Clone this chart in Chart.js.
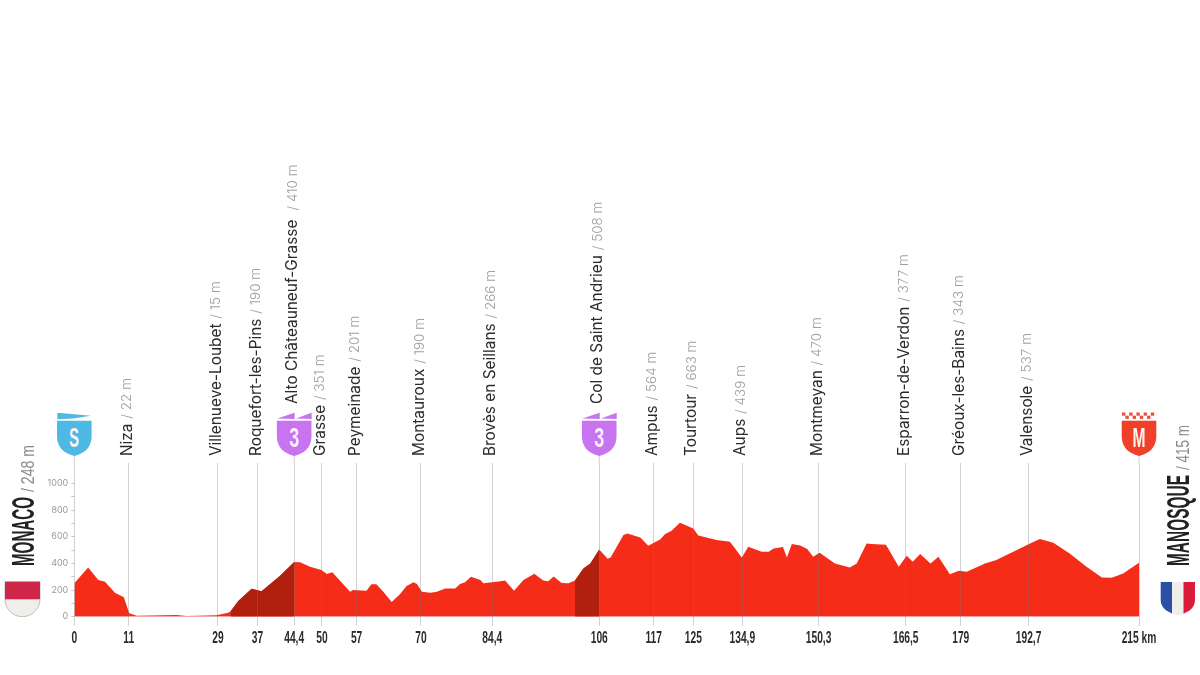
<!DOCTYPE html>
<html>
<head>
<meta charset="utf-8">
<title>Etapa Monaco - Manosque</title>
<script src="https://cdn.jsdelivr.net/npm/chart.js@4/dist/chart.umd.min.js"></script>
<style>
  html, body { margin: 0; background: #fff; }
  canvas { display: block; }
</style>
</head>
<body>
<canvas id="profile" width="1200" height="675"></canvas>
<script>
// profile
const km = [0, 2.8, 4.85, 6.2, 8.2, 10, 11.1, 12.6, 20.7, 22.7, 28.7, 31.1, 31.6, 33.1, 35.8, 37.8, 41.5, 44.4, 45.6, 47.6, 49.9, 51, 52.1, 55.7, 56.3, 59, 60, 61, 62.4, 64.1, 65.8,
  67.1, 68.5, 69.2, 70.2, 71.9, 73.2, 74.9, 76.9, 77.9, 78.9, 80.1, 82, 82.6, 84.3, 85.3, 87, 88.8, 90.7, 92.9, 94.7, 95.7, 96.8, 98.4, 99.8, 101.1, 102.8, 104.2, 106,
  107.7, 108.3, 110.9, 111.7, 114.3, 115.9, 118.3, 119.3, 120.6, 122.3, 125, 126, 129.7, 132.4, 134.8, 136.1, 138.8, 140.2, 141.2, 143.1, 143.9, 144.9, 146.6,
  148, 149.2, 150.5, 153.6, 156.6, 158, 160, 161, 163.9, 166.5, 168.1, 169.3, 170.8, 172.9, 174.5, 176.8, 178.6, 180.2, 183.9, 186.2, 189.6, 193, 195, 197.7, 201, 204.4, 207.5, 209.5, 211.8, 215];
const elevation = [250, 370, 275, 262, 180, 145, 25, 8, 12, 5, 10, 30, 42, 118, 210, 190, 305, 410, 408, 375, 350, 320, 333, 188, 200, 195, 243, 243, 188, 110, 170,
  230, 258, 245, 188, 180, 188, 212, 212, 245, 258, 300, 275, 250, 258, 262, 272, 195, 275, 322, 272, 265, 302, 252, 250, 272, 362, 400, 505,
  435, 445, 612, 625, 595, 532, 580, 620, 645, 705, 662, 610, 575, 562, 445, 525, 488, 488, 512, 522, 445, 545, 535,
  508, 450, 480, 400, 370, 400, 550, 545, 540, 375, 458, 412, 470, 400, 450, 318, 345, 338, 400, 425, 488, 550, 582, 555, 475, 375, 295, 292, 325, 405];

// the 166,5 line sits nearer km 168 on the original drawing
const kmMarks = [0, 11, 29, 37, 44.4, 50, 57, 70, 84.4, 106, 117, 125, 134.9, 150.3, 167.9, 179, 192.7, 215];
const kmLabels = ['0', '11', '29', '37', '44,4', '50', '57', '70', '84,4', '106', '117', '125', '134,9', '150,3', '166,5', '179', '192,7', '215 km'];
const altTicks = [0, 100, 200, 300, 400, 500, 600, 700, 800, 900, 1000];

const placeKm = [11, 29, 37, 44.4, 50, 57, 70, 84.4, 106, 117, 125, 134.9, 150.3, 167.9, 179, 192.7];
const placeNames = ['Niza', 'Villenueve-Loubet', 'Roquefort-les-Pins', 'Alto Châteauneuf-Grasse ', 'Grasse', 'Peymeinade', 'Montauroux', 'Brovès en Seillans', 'Col de Saint Andrieu', 'Ampus', 'Tourtour', 'Aups', 'Montmeyan', 'Esparron-de-Verdon', 'Gréoux-les-Bains', 'Valensole'];
const placeAlts = ['22 m', '15 m', '190 m', '410 m', '351 m', '201 m', '190 m', '266 m', '508 m', '564 m', '663 m', '439 m', '470 m', '377 m', '343 m', '537 m'];

const climbs = [[31.6, 44.4], [101.1, 106]];

const RED = '#f52d18';
const DARK = '#b1200f';
const BLUE = '#4fb9e6';
const PURPLE = '#c873f0';
const NARROW = '"Liberation Sans", sans-serif';

function points(from, to) {
    let out = [];
    km.forEach((k, i) => {
        if (k >= from && k <= to) out.push({ x: k, y: elevation[i] });
    });
    return out;
}

// squeezes text along its own direction so condensed lettering fits a given length
function fitText(ctx, text, x, y, len, font, color) {
    ctx.save();
    ctx.font = font;
    ctx.fillStyle = color;
    ctx.translate(x, y);
    ctx.scale(len / ctx.measureText(text).width, 1);
    ctx.fillText(text, 0, 0);
    ctx.restore();
}

function upright(ctx, x, y, draw) {
    ctx.save();
    ctx.translate(x, y);
    ctx.rotate(-Math.PI / 2);
    draw();
    ctx.restore();
}

function shieldPath(ctx, cx) {
    ctx.beginPath();
    ctx.moveTo(cx - 17.3, 420.7);
    ctx.lineTo(cx + 17.3, 420.7);
    ctx.lineTo(cx + 17.3, 436);
    ctx.bezierCurveTo(cx + 17.3, 449, cx + 8, 454, cx, 456);
    ctx.bezierCurveTo(cx - 8, 454, cx - 17.3, 449, cx - 17.3, 436);
    ctx.closePath();
}

function drawShield(ctx, cx, color, letter, kind) {
    ctx.fillStyle = color;
    shieldPath(ctx, cx);
    ctx.fill();
    if (kind == 'start') {
        ctx.beginPath();
        ctx.moveTo(cx - 17, 412.7);
        ctx.lineTo(cx + 16.5, 415.7);
        ctx.lineTo(cx - 1, 418.6);
        ctx.lineTo(cx - 17, 419.3);
        ctx.fill();
    }
    if (kind == 'climb') {
        ctx.beginPath();
        ctx.moveTo(cx - 17, 418.4);
        ctx.lineTo(cx + 0.5, 412.7);
        ctx.lineTo(cx + 0.5, 419);
        ctx.closePath();
        ctx.moveTo(cx + 1.7, 418.4);
        ctx.lineTo(cx + 17.5, 412.7);
        ctx.lineTo(cx + 17.5, 419);
        ctx.closePath();
        ctx.fill();
    }
    if (kind == 'finish') {
        ctx.fillStyle = '#e8503f';
        for (let i = 0; i < 5; i++) {
            ctx.fillRect(cx - 17 + i * 7.2, 412.5, 3.4, 3.2);
        }
        for (let i = 0; i < 4; i++) {
            ctx.fillRect(cx - 13.6 + i * 7.2, 415.7, 3.4, 3.2);
        }
    }
    ctx.textAlign = 'left';
    ctx.textBaseline = 'alphabetic';
    let w = letter == 'M' ? 13 : 10;
    fitText(ctx, letter, cx - w / 2, 446.5, w, 'bold 27px ' + NARROW, kind == 'climb' ? '#fbeefe' : '#fdf3ef');
}

function drawFlags(ctx) {
    // Monaco
    ctx.save();
    ctx.beginPath();
    ctx.moveTo(5, 581.7);
    ctx.lineTo(40, 581.7);
    ctx.lineTo(40, 599);
    ctx.bezierCurveTo(40, 610, 31, 616.7, 22.5, 616.7);
    ctx.bezierCurveTo(14, 616.7, 5, 610, 5, 599);
    ctx.closePath();
    ctx.fillStyle = '#f0eeea';
    ctx.fill();
    ctx.strokeStyle = '#b5b0ab';
    ctx.lineWidth = 0.8;
    ctx.stroke();
    ctx.clip();
    ctx.fillStyle = '#d0264a';
    ctx.fillRect(4, 581, 37, 18.3);
    ctx.restore();
    // France
    ctx.save();
    ctx.beginPath();
    ctx.moveTo(1160.7, 582);
    ctx.lineTo(1195, 582);
    ctx.lineTo(1195, 600);
    ctx.bezierCurveTo(1195, 609, 1187, 613, 1178, 615.5);
    ctx.bezierCurveTo(1169, 613, 1160.7, 609, 1160.7, 600);
    ctx.closePath();
    ctx.clip();
    ctx.fillStyle = '#2c4fa6';
    ctx.fillRect(1160, 581, 12, 36);
    ctx.fillStyle = '#f0eeea';
    ctx.fillRect(1172, 581, 11.5, 36);
    ctx.fillStyle = '#dc1a3c';
    ctx.fillRect(1183.5, 581, 12, 36);
    ctx.restore();
}

const stagePlugin = {
    id: 'stage',
    afterDraw(chart) {
        const ctx = chart.ctx;
        const xs = chart.scales.x;

        // km labels, condensed, at the positions of the scale's ticks
        ctx.textAlign = 'center';
        ctx.textBaseline = 'alphabetic';
        xs.ticks.forEach((t) => {
            ctx.save();
            ctx.translate(xs.getPixelForValue(t.value), 643.3);
            ctx.scale(0.62, 1);
            ctx.font = 'bold 16.5px ' + NARROW;
            ctx.fillStyle = '#2b2b2b';
            ctx.fillText(t.label, 0, 0);
            ctx.restore();
        });

        // place names standing on the km lines
        ctx.textAlign = 'left';
        ctx.textBaseline = 'middle';
        placeNames.forEach((name, i) => {
            let px = xs.getPixelForValue(placeKm[i]);
            let raised = placeKm[i] == 44.4 || placeKm[i] == 106;
            upright(ctx, px - 1.5, raised ? 404 : 456, () => {
                ctx.font = '15.4px Inter, sans-serif';
                ctx.fillStyle = '#2b2b2b';
                ctx.fillText(name, 0, 0);
                let w = ctx.measureText(name).width;
                ctx.font = '300 13.5px Inter, sans-serif';
                ctx.fillStyle = '#a0a0a0';
                ctx.fillText(' / ' + placeAlts[i], w + 1, 0);
            });
        });

        // shields, with the line running up to the tip
        ctx.strokeStyle = 'rgba(120,120,120,0.35)';
        ctx.lineWidth = 1;
        [0, 44.4, 106, 215].forEach((k) => {
            let px = xs.getPixelForValue(k);
            ctx.beginPath();
            ctx.moveTo(px, 455);
            ctx.lineTo(px, 463);
            ctx.stroke();
        });
        drawShield(ctx, xs.getPixelForValue(0), BLUE, 'S', 'start');
        drawShield(ctx, xs.getPixelForValue(44.4), PURPLE, '3', 'climb');
        drawShield(ctx, xs.getPixelForValue(106), PURPLE, '3', 'climb');
        drawShield(ctx, xs.getPixelForValue(215), '#f0402a', 'M', 'finish');

        // start and finish names
        ctx.textAlign = 'left';
        ctx.textBaseline = 'alphabetic';
        upright(ctx, 34, 566, () => {
            fitText(ctx, 'MONACO', 0, 0, 69, 'bold 32px ' + NARROW, '#222');
            fitText(ctx, '/ 248 m', 74, 0, 47, '18px ' + NARROW, '#8a8a8a');
        });
        upright(ctx, 1189, 566, () => {
            fitText(ctx, 'MANOSQUE', 0, 0, 91, 'bold 32px ' + NARROW, '#222');
            fitText(ctx, '/ 415 m', 96, 0, 45, '18px ' + NARROW, '#8a8a8a');
        });
        drawFlags(ctx);
    }
};

const datasets = [];
climbs.forEach((c) => {
    datasets.push({
        data: points(c[0], c[1]),
        backgroundColor: DARK,
        borderWidth: 0,
        pointRadius: 0,
        tension: 0,
        fill: 'origin'
    });
});
datasets.push({
    data: points(0, 215),
    backgroundColor: RED,
    borderWidth: 0,
    pointRadius: 0,
    tension: 0,
    fill: 'origin'
});

new Chart(document.getElementById('profile'), {
    type: 'line',
    data: { datasets: datasets },
    plugins: [stagePlugin],
    options: {
        responsive: false,
        animation: false,
        events: [],
        layout: { padding: { top: 463, right: 61, bottom: 0, left: 0 } },
        plugins: { legend: { display: false }, tooltip: { enabled: false }, title: { display: false } },
        scales: {
            x: {
                type: 'linear',
                min: 0,
                max: 215,
                afterFit(scale) { scale.height = 58.3; },
                afterBuildTicks(scale) { scale.ticks = kmMarks.map((v) => ({ value: v })); },
                border: { display: false },
                grid: { z: 1, color: 'rgba(120,120,120,0.35)', lineWidth: 1, tickLength: 9 },
                ticks: {
                    display: false,
                    autoSkip: false,
                    minRotation: 0,
                    maxRotation: 0,
                    callback: (v, i) => kmLabels[i]
                }
            },
            y: {
                type: 'linear',
                min: 0,
                max: 1153,
                afterFit(scale) { scale.width = 74.3; },
                afterBuildTicks(scale) { scale.ticks = altTicks.map((v) => ({ value: v })); },
                border: { display: false },
                grid: { drawOnChartArea: false, color: '#c4c4c4', tickLength: 3 },
                ticks: {
                    autoSkip: false,
                    padding: 3,
                    color: '#9a9a9a',
                    font: { family: 'Inter, sans-serif', size: 9 },
                    callback: (v) => (v % 200 == 0 ? v : '')
                }
            }
        }
    }
});
</script>
</body>
</html>
